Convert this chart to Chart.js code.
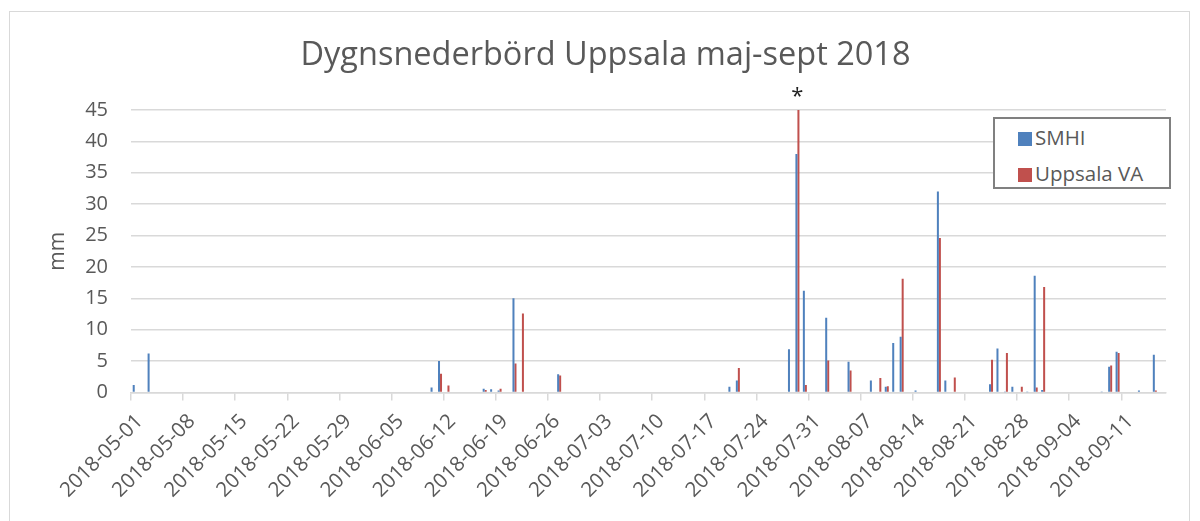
<!DOCTYPE html>
<html>
<head>
<meta charset="utf-8">
<script src="https://cdn.jsdelivr.net/npm/chart.js@4.4.1/dist/chart.umd.min.js"></script>
<style>
  body { margin: 0; background: #fff; }
  #wrap { position: relative; width: 1200px; height: 521px; overflow: hidden; }
  #frame { position: absolute; left: 9px; top: 11px; width: 1181px; height: 540px; border: 1px solid #d9d9d9; box-sizing: border-box; }
  #legend { position: absolute; left: 993px; top: 117px; width: 178px; height: 72px; box-sizing: border-box;
            border: 2px solid #808080; background: #fff; font-family: 'Open Sans', sans-serif; font-size: 20.5px; color: #595959; }
  #legend .item { position: absolute; left: 23px; height: 26px; line-height: 26px; }
  #legend .sw { display: inline-block; width: 14px; height: 14px; margin-right: 3px; vertical-align: -1px; }
</style>
</head>
<body>
<div id="wrap">
  <div id="frame"></div>
  <canvas id="rainChart" width="1200" height="521"></canvas>
  <div id="legend"></div>
</div>
<script>
const startDate = '2018-05-01';
const dayCount = 139;
const labelEvery = 7;
const seriesNames = ['SMHI', 'Uppsala VA'];
const seriesColors = ['#4f81bd', '#c0504d'];
const markedDate = '2018-07-29';

// daily rain, mm, one row per week starting 2018-05-01
const smhi = [
  1.2, 0, 6.2, 0, 0, 0, 0,
  0, 0, 0, 0, 0, 0, 0,
  0, 0, 0, 0, 0, 0, 0,
  0, 0, 0, 0, 0, 0, 0,
  0, 0, 0, 0, 0, 0, 0,
  0, 0, 0, 0, 0, 0.8, 5.0,
  0, 0.1, 0, 0, 0, 0.6, 0.5,
  0.3, 0, 15.0, 0.1, 0, 0, 0,
  0, 2.9, 0, 0, 0, 0, 0,
  0, 0, 0, 0, 0, 0, 0,
  0, 0, 0, 0, 0, 0, 0,
  0, 0, 0, 0.9, 1.9, 0, 0,
  0, 0, 0, 0, 6.9, 38.0, 16.2,
  0, 0, 11.9, 0, 0.1, 4.9, 0,
  0, 1.9, 0, 0.9, 7.9, 8.9, 0,
  0.3, 0, 0, 32.0, 1.9, 0, 0,
  0, 0, 0.1, 1.3, 7.0, 0.05, 0.9,
  0, 0.05, 18.6, 0.4, 0, 0, 0,
  0, 0, 0, 0, 0.05, 4.1, 6.5,
  0, 0, 0.3, 0, 6.0
];
const uppsalaVA = [
  0, 0, 0, 0, 0, 0, 0,
  0, 0, 0, 0, 0, 0, 0,
  0, 0, 0, 0, 0, 0, 0,
  0, 0, 0, 0, 0, 0, 0,
  0, 0, 0, 0, 0, 0, 0,
  0, 0, 0, 0, 0, 0, 3.0,
  1.1, 0, 0, 0, 0, 0.4, 0,
  0.6, 0, 4.6, 12.6, 0, 0, 0,
  0, 2.7, 0, 0, 0, 0, 0,
  0, 0, 0, 0, 0, 0, 0,
  0, 0, 0, 0, 0, 0, 0,
  0, 0, 0, 0, 3.9, 0, 0,
  0, 0, 0, 0, 0, 45.0, 1.2,
  0, 0, 5.1, 0, 0, 3.5, 0,
  0, 0, 2.3, 1.0, 0, 18.1, 0,
  0, 0, 0, 24.6, 0, 2.4, 0,
  0, 0, 0, 5.2, 0, 6.3, 0.1,
  0.9, 0, 0.8, 16.8, 0, 0, 0,
  0, 0, 0, 0, 0, 4.3, 6.3,
  0, 0, 0, 0.1, 0.3
];

const dates = [];
for (let i = 0; i < dayCount; i++) {
  const d = new Date(startDate + 'T12:00:00Z');
  d.setUTCDate(d.getUTCDate() + i);
  dates.push(d.toISOString().slice(0, 10));
}

const fontFamily = "'Open Sans', sans-serif";
const textColor = '#595959';
const gridColor = '#d9d9d9';

// asterisk above the marked bar of the second series
const starPlugin = {
  id: 'star',
  afterDatasetsDraw(chart) {
    const idx = dates.indexOf(markedDate);
    const bar = chart.getDatasetMeta(1).data[idx];
    if (!bar) return;
    const ctx = chart.ctx;
    ctx.save();
    ctx.fillStyle = '#222';
    ctx.font = "22px " + fontFamily;
    ctx.textAlign = 'center';
    ctx.textBaseline = 'bottom';
    ctx.fillText('*', bar.x - 1, bar.y - 2);
    ctx.restore();
  }
};

const chart = new Chart(document.getElementById('rainChart'), {
  type: 'bar',
  data: {
    labels: dates,
    datasets: [
      { label: seriesNames[0], data: smhi, backgroundColor: seriesColors[0] },
      { label: seriesNames[1], data: uppsalaVA, backgroundColor: seriesColors[1] }
    ]
  },
  options: {
    responsive: false,
    animation: false,
    categoryPercentage: 0.54,
    barPercentage: 1,
    layout: { padding: { top: 36, left: 45, right: 34, bottom: 0 } },
    plugins: {
      title: {
        display: true,
        text: 'Dygnsnederbörd Uppsala maj-sept 2018',
        color: textColor,
        font: { family: fontFamily, size: 32.5, weight: 'normal' },
        padding: { top: 0, bottom: 35 }
      },
      legend: { display: false },
      tooltip: { enabled: false }
    },
    scales: {
      x: {
        offset: true,
        grid: {
          offset: true,
          drawOnChartArea: false,
          tickLength: 8,
          lineWidth: 1.5,
          color: ctx => ctx.index % labelEvery === 0 ? gridColor : 'rgba(0,0,0,0)'
        },
        border: { color: gridColor, width: 1.5 },
        ticks: {
          autoSkip: false,
          minRotation: 45,
          maxRotation: 45,
          padding: 9,
          labelOffset: 5,
          color: textColor,
          font: { family: fontFamily, size: 20.5 },
          callback: function(value, index) {
            return index % labelEvery === 0 ? this.getLabelForValue(value) : '';
          }
        },
        afterFit(scale) { scale.height = 128.5; }
      },
      y: {
        min: 0,
        max: 45,
        grid: { color: gridColor, lineWidth: 1.5, drawTicks: false },
        border: { display: false },
        ticks: { stepSize: 5, padding: 23, color: textColor, font: { family: fontFamily, size: 20 } },
        title: { display: true, text: 'mm', color: textColor, font: { family: fontFamily, size: 21 }, padding: 0 },
        afterFit(scale) { scale.width = 86; }
      }
    }
  },
  plugins: [starPlugin]
});

// legend box drawn as html over the plot
const legendEl = document.getElementById('legend');
chart.data.datasets.forEach((ds, i) => {
  const item = document.createElement('div');
  item.className = 'item';
  item.style.top = (5 + i * 36) + 'px';
  item.innerHTML = '<span class="sw" style="background:' + ds.backgroundColor + '"></span>' + ds.label;
  legendEl.appendChild(item);
});
</script>
</body>
</html>
